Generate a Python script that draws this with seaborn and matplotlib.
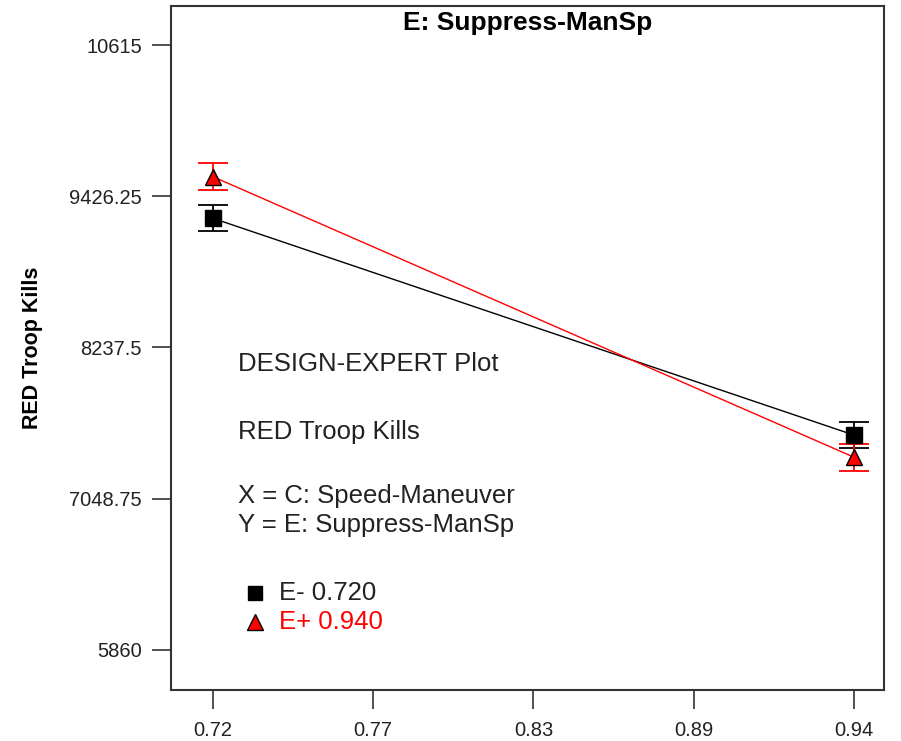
import matplotlib
matplotlib.use("Agg")
import matplotlib.pyplot as plt
import seaborn as sns
import pandas as pd
import numpy as np

# Data
x_levels = [0.72, 0.94]
series_names = ["E- 0.720", "E+ 0.940"]
y_low = [9253, 7549]     # E- 0.720 (black squares)
y_high = [9580, 7375]    # E+ 0.940 (red triangles)
err_low = [103, 102]
err_high = [106, 106]
x_ticks = [0.72, 0.775, 0.83, 0.885, 0.94]
x_tick_labels = ["0.72", "0.77", "0.83", "0.89", "0.94"]
y_ticks = [5860, 7048.75, 8237.5, 9426.25, 10615]
y_tick_labels = ["5860", "7048.75", "8237.5", "9426.25", "10615"]

df = pd.DataFrame({
    "x": x_levels * 2,
    "y": y_low + y_high,
    "err": err_low + err_high,
    "series": [series_names[0]] * 2 + [series_names[1]] * 2,
})

sns.set_theme(style="white")
plt.rcParams["font.family"] = ["Liberation Sans", "DejaVu Sans"]

fig = plt.figure(figsize=(9.01, 7.41), dpi=100)
ax = fig.add_axes([171 / 901, 51 / 741, 713 / 901, 684 / 741])

palette = {series_names[0]: "black", series_names[1]: "#ff0000"}
markers = {series_names[0]: "s", series_names[1]: "^"}

sns.lineplot(data=df, x="x", y="y", hue="series", palette=palette,
             legend=False, ax=ax, linewidth=1.0, zorder=2)

for name in series_names:
    sub = df[df["series"] == name]
    col = palette[name]
    ax.errorbar(sub["x"], sub["y"], yerr=sub["err"], fmt="none",
                ecolor=col, elinewidth=1.3, capsize=11, capthick=1.3, zorder=3)
    ax.plot(sub["x"], sub["y"], linestyle="none", marker=markers[name],
            markersize=11 if markers[name] == "s" else 12,
            markerfacecolor=col, markeredgecolor="black", markeredgewidth=1.0,
            zorder=4)

ax.set_xlim(0.7056, 0.9503)
ax.set_ylim(5545, 10922)
ax.set_xticks(x_ticks)
ax.set_xticklabels(x_tick_labels)
ax.set_yticks(y_ticks)
ax.set_yticklabels(y_tick_labels)
ax.tick_params(axis="both", direction="out", length=14, width=1.2,
               color="#333333", labelsize=14.5, labelcolor="#222222",
               left=True, bottom=True)
ax.tick_params(axis="y", pad=7)
ax.tick_params(axis="x", pad=8)
for sp in ax.spines.values():
    sp.set_visible(True)
    sp.set_color("#333333")
    sp.set_linewidth(1.5)

ax.set_xlabel("")
ax.set_ylabel("RED Troop Kills", fontsize=15.5, fontweight="bold",
              color="black", labelpad=0)
ax.yaxis.set_label_coords((43 - 171) / 713, 0.5)

ax.text(0.5, 0.993, "E: Suppress-ManSp", transform=ax.transAxes,
        ha="center", va="top", fontsize=19, fontweight="bold", color="black")

def ax_pt(px, py):
    # convert figure pixel coords (from top-left) to axes fraction
    return ((px - 171) / 713, (690 - py) / 684)

for txt, py in [("DESIGN-EXPERT Plot", 364), ("RED Troop Kills", 432),
                ("X = C: Speed-Maneuver", 496), ("Y = E: Suppress-ManSp", 525)]:
    xa, ya = ax_pt(238, py)
    ax.text(xa, ya, txt, transform=ax.transAxes, ha="left", va="center",
            fontsize=18.5, color="#222222")

for name, py in zip(series_names, [593, 622]):
    xa, ya = ax_pt(255, py)
    ax.plot([xa], [ya], transform=ax.transAxes, linestyle="none",
            marker=markers[name], markersize=10 if markers[name] == "s" else 12,
            markerfacecolor=palette[name], markeredgecolor="black",
            markeredgewidth=1.0, clip_on=False)
    xt, yt = ax_pt(279, py)
    ax.text(xt, yt, name, transform=ax.transAxes, ha="left", va="center",
            fontsize=18.5, color=palette[name] if name != series_names[0] else "#222222")

fig.savefig("out.png", dpi=100)
